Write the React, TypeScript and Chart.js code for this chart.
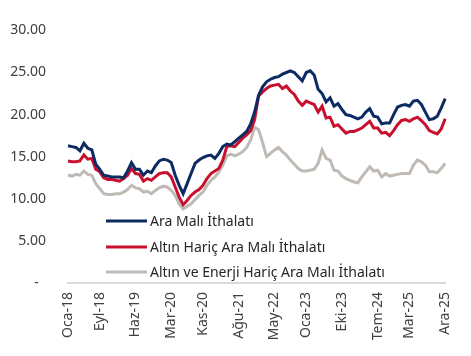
import React, { useEffect, useRef } from "react";
import { Chart, registerables } from "chart.js";

Chart.register(...registerables);

const monthNames = ["Oca", "Şub", "Mar", "Nis", "May", "Haz", "Tem", "Ağu", "Eyl", "Eki", "Kas", "Ara"];
const yearSuffixes = ["18", "19", "20", "21", "22", "23", "24", "25"];
const categories = yearSuffixes.flatMap((y) => monthNames.map((m) => `${m}-${y}`));

const shownTickLabels = ["Oca-18", "Eyl-18", "Haz-19", "Mar-20", "Kas-20", "Ağu-21", "May-22", "Oca-23", "Eki-23", "Tem-24", "Mar-25", "Ara-25"];

const seriesNames = ["Ara Malı İthalatı", "Altın Hariç Ara Malı İthalatı", "Altın ve Enerji Hariç Ara Malı İthalatı"];

const araMali = [
  16.3, 16.2, 16.1, 15.7, 16.6, 16.0, 15.8, 14.1, 13.5, 12.8, 12.7, 12.6,
  12.6, 12.6, 12.5, 13.3, 14.3, 13.5, 13.5, 12.8, 13.3, 13.1, 13.9, 14.5,
  14.7, 14.6, 14.3, 12.8, 11.6, 10.6, 11.8, 13.0, 14.2, 14.6, 14.9, 15.1,
  15.2, 14.8, 15.4, 16.2, 16.5, 16.4, 16.8, 17.2, 17.6, 18.0, 18.9, 20.3,
  22.3, 23.3, 23.9, 24.2, 24.4, 24.5, 24.8, 25.0, 25.2, 25.0, 24.5, 24.0,
  25.0, 25.2, 24.7, 23.0, 22.5, 21.5, 22.0, 21.0, 21.3, 20.6, 20.0, 19.9,
  19.7, 19.5, 19.7, 20.3, 20.7, 19.8, 19.7, 18.9, 19.0, 19.0, 20.0, 20.9,
  21.1, 21.2, 21.0, 21.6, 21.7, 21.2, 20.3, 19.4, 19.5, 19.8, 20.8, 21.9,
];

const altinHaric = [
  14.5, 14.4, 14.4, 14.5, 15.2, 14.7, 14.8, 13.5, 13.2, 12.5, 12.3, 12.3,
  12.2, 12.1, 12.4, 12.8, 13.6, 13.0, 12.9, 12.1, 12.4, 12.2, 12.6, 13.0,
  13.1, 13.1, 12.6, 11.4, 10.2, 9.3, 9.8, 10.4, 10.8, 11.1, 11.6, 12.4,
  13.0, 13.3, 13.6, 14.6, 16.2, 16.3, 16.2, 16.7, 17.2, 17.6, 18.1, 19.4,
  22.2, 22.7, 23.1, 23.4, 23.5, 23.6, 23.1, 23.4, 22.8, 22.4, 21.6, 21.1,
  21.6, 21.4, 21.2, 20.3, 21.0, 19.6, 19.7, 18.6, 18.8, 18.3, 17.8, 18.0,
  18.0, 18.2, 18.4, 18.8, 19.2, 18.4, 18.4, 17.8, 17.9, 17.5, 18.1, 18.8,
  19.3, 19.4, 19.2, 19.5, 19.7, 19.3, 18.8, 18.1, 17.9, 17.7, 18.3, 19.5,
];

const altinEnerjiHaric = [
  12.8, 12.7, 12.9, 12.8, 13.3, 12.9, 12.8, 11.8, 11.2, 10.6, 10.5, 10.5,
  10.6, 10.6, 10.8, 11.1, 11.6, 11.3, 11.2, 10.8, 10.9, 10.6, 11.0, 11.3,
  11.5, 11.4, 11.0, 10.4, 9.4, 8.8, 9.1, 9.4, 9.9, 10.4, 10.8, 11.6,
  12.2, 12.6, 13.2, 14.0, 15.1, 15.3, 15.1, 15.3, 15.6, 16.1, 17.0, 18.5,
  18.2, 16.7, 15.0, 15.4, 15.8, 16.1, 15.6, 15.2, 14.6, 14.1, 13.6, 13.3,
  13.3, 13.4, 13.5, 14.2, 15.8, 14.8, 14.6, 13.4, 13.3, 12.7, 12.4, 12.2,
  12.0, 11.9, 12.6, 13.2, 13.8, 13.3, 13.4, 12.6, 13.0, 12.7, 12.8, 12.9,
  13.0, 13.0, 13.0, 14.0, 14.6, 14.4, 14.0, 13.2, 13.2, 13.1, 13.6, 14.2,
];

const colors = ["#0C2B63", "#C8102E", "#BFBAB4"];
const FONT = '"Noto Sans", sans-serif';

const insideLegend = {
  id: "insideLegend",
  afterDraw(chart: any) {
    const ctx = chart.ctx;
    const x0 = 106;
    const lineLen = 41;
    const ys = [221, 247, 272];
    ctx.save();
    chart.data.datasets.forEach((ds: any, i: number) => {
      const y = ys[i];
      ctx.strokeStyle = ds.borderColor;
      ctx.lineWidth = 3;
      ctx.beginPath();
      ctx.moveTo(x0, y);
      ctx.lineTo(x0 + lineLen, y);
      ctx.stroke();
      ctx.fillStyle = "#262626";
      ctx.font = `14px ${FONT}`;
      ctx.textAlign = "left";
      ctx.textBaseline = "middle";
      ctx.fillText(ds.label, x0 + lineLen + 3, y + 1);
    });
    ctx.restore();
  },
};

export default function App() {
  const ref = useRef<HTMLCanvasElement | null>(null);
  useEffect(() => {
    if (!ref.current) return;
    const seriesData = [araMali, altinHaric, altinEnerjiHaric];
    const chart = new Chart(ref.current, {
      type: "line",
      data: {
        labels: categories,
        datasets: seriesData.map((d, i) => ({
          label: seriesNames[i],
          data: d,
          borderColor: colors[i],
          backgroundColor: colors[i],
          borderWidth: 3,
          pointRadius: 0,
          tension: 0,
          fill: false,
        })),
      },
      options: {
        responsive: false,
        animation: false,
        layout: { padding: { left: 0, right: 22, top: 12, bottom: 0 } },
        plugins: { legend: { display: false }, tooltip: { enabled: false } },
        scales: {
          x: {
            type: "category",
            offset: false,
            grid: { display: false, drawTicks: false },
            border: { display: true, color: "#D9D9D9", width: 2 },
            ticks: {
              autoSkip: false,
              minRotation: 90,
              maxRotation: 90,
              padding: 9,
              color: "#404040",
              font: { family: FONT, size: 14 },
              callback: (_v: any, idx: number) => (shownTickLabels.includes(categories[idx]) ? categories[idx] : ""),
            },
            afterFit: (scale: any) => {
              scale.height = 73;
            },
          },
          y: {
            min: 0,
            max: 30,
            grid: { display: false, drawTicks: false },
            border: { display: false },
            ticks: {
              stepSize: 5,
              padding: 22,
              color: "#404040",
              font: { family: FONT, size: 14 },
              callback: (v: any) => (Number(v) === 0 ? "-\u00a0\u00a0" : Number(v).toFixed(2)),
            },
            afterFit: (scale: any) => {
              scale.width = 68;
            },
          },
        },
      },
      plugins: [insideLegend],
    });
    return () => chart.destroy();
  }, []);
  return (
    <div style={{ position: "absolute", left: 0, top: 0, width: 471, height: 356, background: "#fff" }}>
      <canvas ref={ref} width={471} height={356} />
    </div>
  );
}
